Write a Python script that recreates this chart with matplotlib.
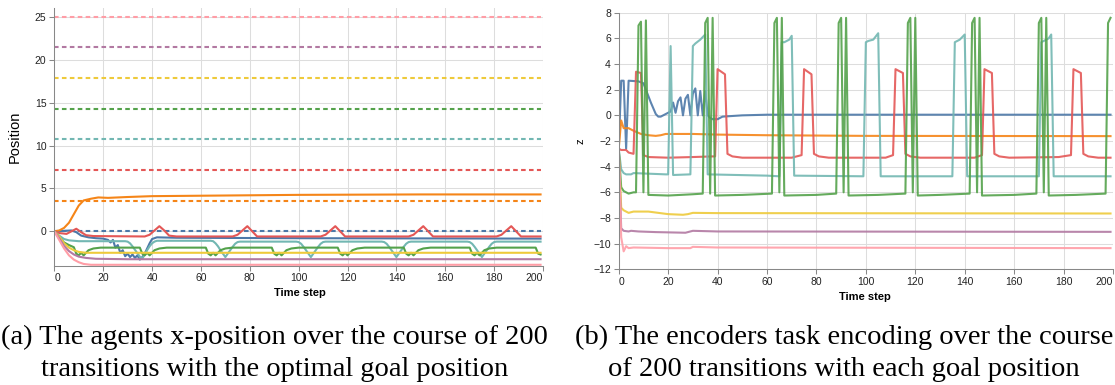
import matplotlib.pyplot as plt

plt.rcParams['font.family'] = ['Liberation Sans', 'DejaVu Sans']

# tableau10 colours (vega default), one per task
colors = ['#4c78a8', '#f58518', '#e45756', '#72b7b2', '#54a24b', '#eeca3b', '#b279a2', '#ff9da6']

# optimal goal position for each task
goals = [0.0, 3.57, 7.14, 10.71, 14.29, 17.86, 21.43, 25.0]

# (a) agent x-position per time step
pos_blue_t = [0, 7, 9, 11, 14, 17, 20, 22, 23, 24, 25, 26, 27, 28, 29, 30, 31, 32, 33, 34, 35, 36, 37, 38, 39, 40, 42, 50, 100, 199]
pos_blue_y = [0, 0.1, -0.1, -0.5, -0.7, -0.8, -0.85, -1.0, -1.3, -1.0, -1.9, -1.6, -2.5, -2.2, -2.9, -2.6, -3.0, -2.7, -3.1, -2.8, -3.3, -3.0, -2.6, -2.0, -1.4, -0.9, -0.7, -0.75, -0.8, -0.85]

pos_orange_t = [0, 2, 4, 6, 8, 10, 12, 15, 18, 22, 30, 40, 60, 100, 150, 199]
pos_orange_y = [0, 0.1, 0.4, 1.0, 2.0, 3.0, 3.6, 3.8, 3.95, 3.9, 4.0, 4.1, 4.15, 4.25, 4.3, 4.3]

pos_red_t = [0, 2, 5, 7, 9, 11, 13, 16, 37, 39, 41, 43, 45, 47, 50, 73, 75, 77, 79, 81, 83, 109, 111, 113, 115, 117, 119,
             145, 147, 149, 151, 153, 155, 181, 183, 185, 187, 189, 191, 199]
pos_red_y = [0, -0.2, -0.3, 0.0, 0.3, -0.1, -0.45, -0.55, -0.6, -0.4, 0.1, 0.6, 0.1, -0.5, -0.6, -0.6, -0.4, 0.1, 0.6, 0.0, -0.6,
             -0.6, -0.4, 0.1, 0.6, 0.0, -0.6, -0.6, -0.4, 0.1, 0.6, 0.0, -0.6, -0.6, -0.4, 0.1, 0.6, 0.0, -0.6, -0.6]

pos_teal_t = [0, 2, 4, 6, 10, 29, 30, 31, 32, 33, 34, 35, 36, 37, 38, 39, 40, 41, 42,
              64, 65, 66, 67, 68, 69, 70, 71, 72, 73, 74, 75, 76,
              99, 100, 101, 102, 103, 104, 105, 106, 107, 108, 109, 110, 111,
              134, 135, 136, 137, 138, 139, 140, 141, 142, 143, 144, 145, 146,
              169, 170, 171, 172, 173, 174, 175, 176, 177, 178, 179, 180, 181, 199]
pos_teal_y = [0, -0.5, -0.9, -1.05, -1.15, -1.15, -1.2, -1.4, -1.75, -2.15, -2.55, -2.95, -3.2, -2.7, -2.2, -1.75, -1.4, -1.2, -1.1,
              -1.1, -1.15, -1.4, -1.75, -2.2, -2.6, -3.0, -2.6, -2.2, -1.8, -1.45, -1.25, -1.2,
              -1.2, -1.25, -1.45, -1.8, -2.2, -2.6, -3.0, -2.6, -2.2, -1.8, -1.45, -1.25, -1.2,
              -1.2, -1.25, -1.45, -1.8, -2.2, -2.6, -3.0, -2.6, -2.2, -1.8, -1.45, -1.25, -1.2,
              -1.2, -1.25, -1.45, -1.8, -2.2, -2.6, -3.0, -2.6, -2.2, -1.8, -1.45, -1.25, -1.2, -1.2]

pos_green_t = [0, 2, 4, 6, 8, 9, 10, 11, 12, 13, 14, 16, 19,
               35, 36, 37, 38, 39, 40, 41, 43, 46,
               62, 63, 64, 65, 66, 67, 68, 70, 73,
               89, 90, 91, 92, 93, 94, 95, 97, 100,
               116, 117, 118, 119, 120, 121, 122, 124, 127,
               143, 144, 145, 146, 147, 148, 149, 151, 154,
               170, 171, 172, 173, 174, 175, 176, 178, 181,
               197, 198, 199]
pos_green_y = [0, -0.7, -1.3, -1.6, -1.85, -2.6, -2.8, -2.5, -2.8, -2.5, -2.2, -2.0, -1.9,
               -1.9, -2.6, -2.8, -2.5, -2.8, -2.5, -2.2, -2.0, -1.9,
               -1.9, -2.6, -2.8, -2.5, -2.8, -2.5, -2.2, -2.0, -1.9,
               -1.9, -2.6, -2.8, -2.5, -2.8, -2.5, -2.2, -2.0, -1.9,
               -1.9, -2.6, -2.8, -2.5, -2.8, -2.5, -2.2, -2.0, -1.9,
               -1.9, -2.6, -2.8, -2.5, -2.8, -2.5, -2.2, -2.0, -1.9,
               -1.9, -2.6, -2.8, -2.5, -2.8, -2.5, -2.2, -2.0, -1.9,
               -1.9, -2.6, -2.7]

pos_yellow_t = [0, 2, 4, 6, 8, 10, 13, 199]
pos_yellow_y = [0, -0.6, -1.4, -1.9, -2.2, -2.4, -2.5, -2.5]

pos_purple_t = [0, 2, 4, 6, 8, 10, 13, 17, 30, 199]
pos_purple_y = [0, -0.8, -1.7, -2.3, -2.7, -2.95, -3.1, -3.2, -3.25, -3.25]

pos_pink_t = [0, 2, 4, 6, 8, 10, 12, 15, 199]
pos_pink_y = [0, -1.0, -2.0, -2.8, -3.3, -3.6, -3.8, -3.9, -3.9]

# (b) encoder task encoding z per time step
enc_blue_t = [0, 1, 2, 3, 4, 8, 10, 11, 13, 15, 16, 17, 19, 21, 22, 23, 24, 25, 26, 27, 28, 29, 30, 31, 32, 33, 34, 35, 36, 37,
              38, 40, 42, 50, 60, 199]
enc_blue_z = [-2.6, 2.7, 2.7, -2.6, 2.7, 2.65, 2.5, 2.0, 1.0, 0.1, -0.1, -0.1, 0.1, 0.3, 1.0, 0.2, 1.1, 1.4, 0.0, 1.3, 1.6, 0.0,
              1.7, 2.1, 0.0, 1.9, 0.0, 1.9, 0.0, -0.2, -0.3, -0.3, -0.1, 0.0, 0.05, 0.05]

enc_orange_t = [0, 1, 2, 4, 6, 9, 12, 15, 17, 19, 30, 40, 60, 100, 199]
enc_orange_z = [-2.6, -0.4, -1.0, -1.0, -1.2, -1.45, -1.55, -1.6, -1.55, -1.45, -1.45, -1.5, -1.55, -1.6, -1.62]

enc_red_t = [0, 1, 3, 4, 6, 7, 9, 10, 12, 20, 30, 38, 39, 40, 43, 44, 46, 50, 70, 73, 74, 75, 78, 79, 81, 85,
             108, 111, 112, 115, 116, 118, 122, 144, 147, 148, 151, 152, 154, 158, 178, 183, 184, 187, 188, 190, 194, 199]
enc_red_z = [-2.6, -2.7, -2.7, -2.9, -3.0, 3.4, 3.3, -3.1, -3.25, -3.3, -3.25, -3.2, -3.2, 3.6, 3.2, -3.0, -3.2, -3.3, -3.3,
             -3.15, -3.1, 3.6, 3.2, -3.0, -3.2, -3.3, -3.3, -3.1, 3.6, 3.3, -3.0, -3.2, -3.3, -3.3, -3.1, 3.6, 3.3, -3.0,
             -3.2, -3.3, -3.25, -3.1, 3.6, 3.3, -3.0, -3.2, -3.3, -3.3]

enc_teal_t = [0, 1, 2, 3, 5, 6, 19, 20, 21, 22, 29, 30, 31, 33, 35, 36, 60, 65, 66, 67, 69, 70, 71, 99, 100, 101, 103, 105,
              106, 135, 136, 138, 140, 141, 170, 171, 172, 174, 175, 176, 199]
enc_teal_z = [-2.6, -4.2, -4.5, -4.6, -4.6, -4.5, -4.6, -4.6, 5.4, -4.65, -4.6, 5.4, 5.6, 5.9, 6.3, -4.6, -4.7, -4.75, 5.7,
              5.7, 5.9, 6.2, -4.7, -4.75, 5.7, 5.8, 5.9, 6.4, -4.75, -4.75, 5.7, 5.9, 6.3, -4.75, -4.75, 5.7, 5.8, 6.0, 6.3,
              -4.75, -4.75]

enc_green_t = [0, 1, 2, 3, 4, 6, 7, 8, 9, 10, 11, 12, 20, 30, 34, 35, 36, 37, 38, 39, 50, 62, 63, 64, 65, 66, 67, 80,
               88, 89, 90, 91, 92, 93, 105, 116, 117, 118, 119, 120, 121, 130, 142, 143, 144, 145, 146, 147, 160,
               169, 170, 171, 172, 173, 174, 185, 197, 198, 199]
enc_green_z = [-2.6, -5.6, -5.9, -6.0, -6.1, -6.0, -6.0, 7.0, 7.3, -6.0, 7.4, -6.2, -6.25, -6.15, -6.1, 7.2, 7.6, -6.1, 7.6,
               -6.25, -6.2, -6.1, 7.2, 7.6, -6.0, 7.6, -6.25, -6.2, -6.1, 7.2, 7.6, -6.0, 7.6, -6.25, -6.2, -6.1, 7.2, 7.6,
               -6.0, 7.6, -6.25, -6.2, -6.1, 7.2, 7.6, -6.0, 7.6, -6.25, -6.2, -6.1, 7.2, 7.6, -6.0, 7.6, -6.25, -6.2,
               -6.1, 7.2, 7.6]

enc_yellow_t = [0, 1, 2, 4, 6, 12, 20, 26, 28, 30, 40, 199]
enc_yellow_z = [-2.6, -7.2, -7.4, -7.6, -7.5, -7.5, -7.7, -7.75, -7.7, -7.6, -7.62, -7.65]

enc_purple_t = [0, 1, 2, 4, 5, 8, 15, 27, 30, 40, 199]
enc_purple_z = [-2.6, -8.8, -9.0, -9.05, -9.0, -9.05, -9.1, -9.15, -9.0, -9.05, -9.08]

enc_pink_t = [0, 1, 2, 3, 4, 6, 20, 29, 30, 40, 199]
enc_pink_z = [-2.6, -9.5, -10.6, -10.2, -10.35, -10.3, -10.35, -10.35, -10.25, -10.3, -10.35]

pos_series = [(pos_blue_t, pos_blue_y), (pos_orange_t, pos_orange_y), (pos_red_t, pos_red_y), (pos_teal_t, pos_teal_y),
              (pos_green_t, pos_green_y), (pos_yellow_t, pos_yellow_y), (pos_purple_t, pos_purple_y), (pos_pink_t, pos_pink_y)]
enc_series = [(enc_blue_t, enc_blue_z), (enc_orange_t, enc_orange_z), (enc_red_t, enc_red_z), (enc_teal_t, enc_teal_z),
              (enc_green_t, enc_green_z), (enc_yellow_t, enc_yellow_z), (enc_purple_t, enc_purple_z), (enc_pink_t, enc_pink_z)]


def style_axes(ax):
    ax.grid(True, color='#dddddd', linewidth=0.75)
    ax.set_axisbelow(True)
    for side in ['top', 'right']:
        ax.spines[side].set_visible(False)
    for side in ['left', 'bottom']:
        ax.spines[side].set_color('#888888')
        ax.spines[side].set_linewidth(0.75)
    ax.tick_params(colors='#888888', labelcolor='#222222', length=3.6, width=0.75, labelsize=7.5, pad=2)
    ax.set_xlim(0, 200)
    ax.set_xticks(range(0, 201, 20))


def flush_xlabels(ax):
    # vega aligns the first and last x labels flush with the axis ends
    labels = ax.get_xticklabels()
    labels[0].set_horizontalalignment('left')
    labels[-1].set_horizontalalignment('right')


fig = plt.figure(figsize=(11.15, 3.85), dpi=100)

# left panel: positions
ax1 = fig.add_axes([0.0487, 0.310, 0.4383, 0.6686])
style_axes(ax1)
ax1.set_ylim(-4, 26)
ax1.set_yticks(range(0, 26, 5))
ax1.hlines(goals, 0, 199, colors=colors, linestyles=(0, (2.2, 1.6)), linewidth=1.5)
for (t, y), c in zip(pos_series, colors):
    ax1.plot(t, y, color=c, linewidth=1.5, solid_joinstyle='round')
ax1.set_ylabel('Position', fontsize=10.5)
ax1.yaxis.set_label_coords(-0.066, 0.5)
ax1.set_xlabel('Time step', fontsize=8, fontweight='bold')
ax1.xaxis.set_label_coords(0.503, -0.088)
flush_xlabels(ax1)

# right panel: task encoding
ax2 = fig.add_axes([0.5549, 0.3005, 0.4433, 0.6665])
style_axes(ax2)
ax2.set_ylim(-12, 8)
ax2.set_yticks(range(-12, 9, 2))
for (t, z), c in zip(enc_series, colors):
    ax2.plot(t, z, color=c, linewidth=1.5, alpha=0.9)
ax2.set_ylabel('z', fontsize=8)
ax2.yaxis.set_label_coords(-0.068, 0.5)
ax2.set_xlabel('Time step', fontsize=8, fontweight='bold')
ax2.xaxis.set_label_coords(0.498, -0.09)
flush_xlabels(ax2)

# captions
cap = dict(family='Liberation Serif', fontsize=20.5, ha='center', va='center')
fig.text(0.246, 1 - 337 / 385, '(a) The agents x-position over the course of 200', **cap)
fig.text(0.246, 1 - 369 / 385, 'transitions with the optimal goal position', **cap)
fig.text(0.757, 1 - 337 / 385, '(b) The encoders task encoding over the course', **cap)
fig.text(0.757, 1 - 369 / 385, 'of 200 transitions with each goal position', **cap)

plt.savefig('out.png', dpi=100)
